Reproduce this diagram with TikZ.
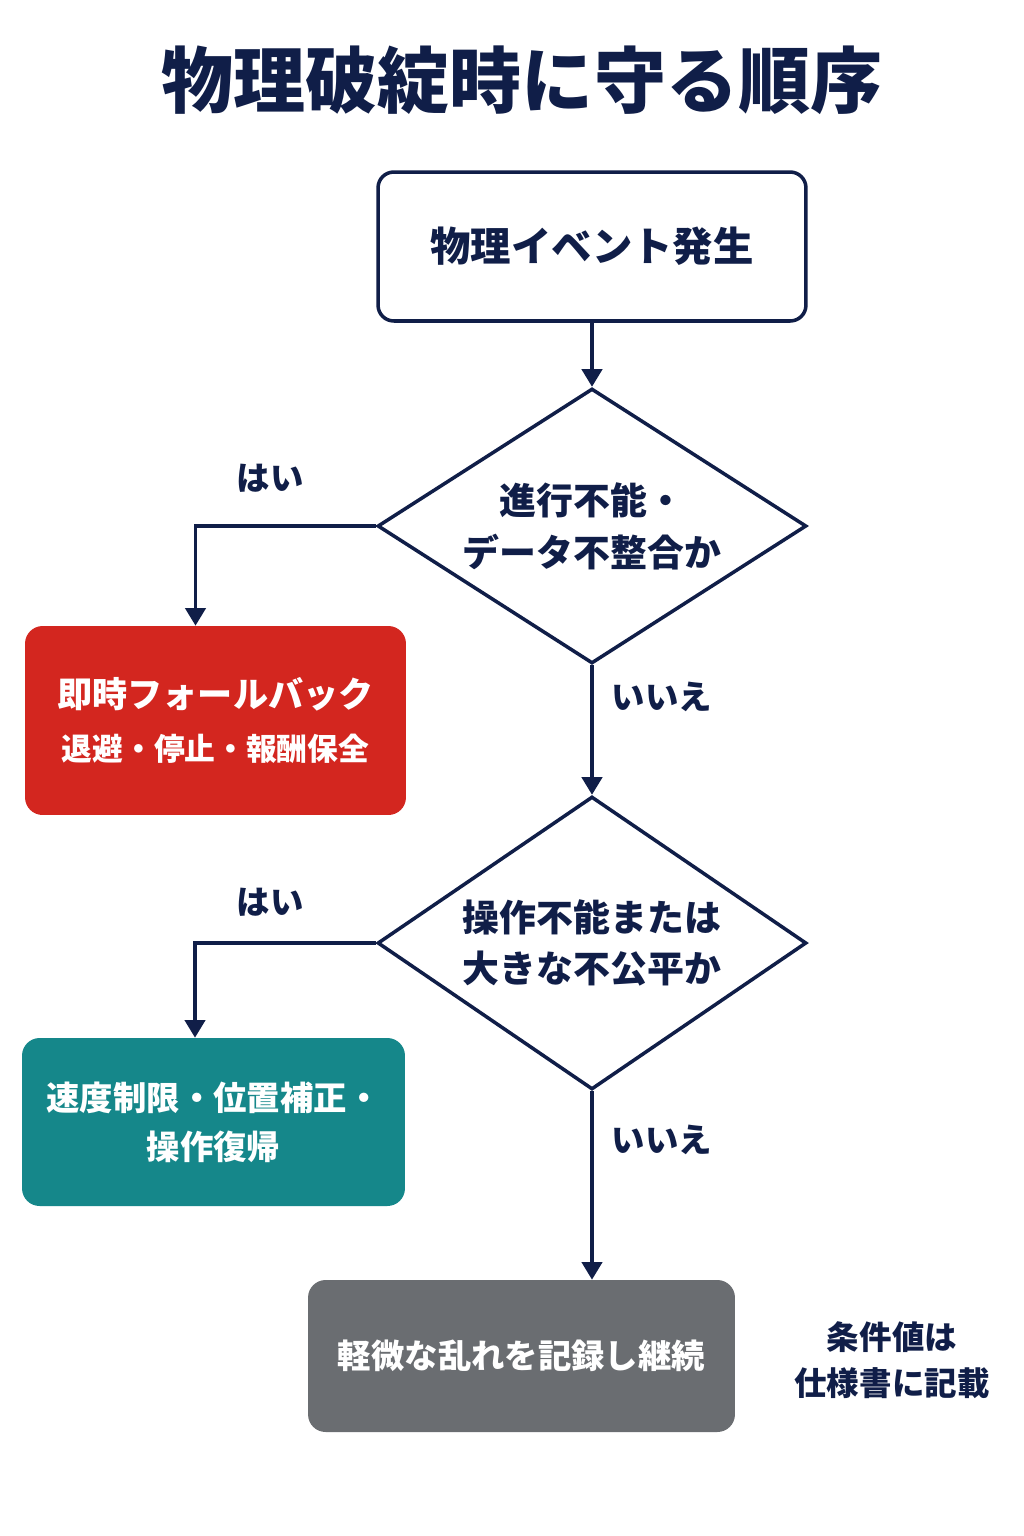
\documentclass[tikz,border=0pt]{standalone}
\usepackage{fontspec}
\setmainfont{Noto Sans CJK JP}
\usepackage{xcolor}
\definecolor{fcnavy}{RGB}{16,30,72}
\definecolor{fcred}{RGB}{211,38,31}
\definecolor{fcteal}{RGB}{21,135,138}
\definecolor{fcgray}{RGB}{106,109,113}
\usepackage{tikz}
\usetikzlibrary{arrows.meta,positioning,shapes.geometric,calc}

\begin{document}
\begin{tikzpicture}[x=0.02cm, y=-0.02cm,
  startbox/.style={
    rectangle, rounded corners=9pt,
    minimum width=8.56cm, minimum height=2.98cm,
    draw=fcnavy, line width=2pt, fill=white,
    font=\fontsize{23}{28}\selectfont\bfseries,
    text=fcnavy
  },
  decision/.style={
    diamond, aspect=1.56, inner sep=0pt,
    minimum width=8.58cm, minimum height=5.5cm,
    draw=fcnavy, line width=2pt, fill=white,
    font=\fontsize{21}{29.5}\selectfont\bfseries,
    align=center, text=fcnavy
  },
  actbox/.style={
    rectangle, rounded corners=10pt,
    font=\fontsize{19}{28}\selectfont\bfseries,
    align=center, text=white
  },
  answer/.style={font=\fontsize{19}{24}\selectfont\bfseries, text=fcnavy},
  conn/.style={-{Triangle[length=10pt,width=11.5pt]}, line width=2pt, draw=fcnavy}
]
\fill[white] (0,0) rectangle (1024,1536);
\useasboundingbox (0,0) rectangle (1024,1536);

\node[font=\fontsize{41}{48}\selectfont\bfseries, text=fcnavy] (title) at (522,80)
  {物理破綻時に守る順序};

\node[startbox] (ev) at (592,246.5) {物理イベント発生};

\node[decision] (d1) at (592,526) {進行不能・\\データ不整合か};
\node[decision, minimum height=5.86cm] (d2) at (592,943) {操作不能または\\大きな不公平か};

\node[actbox, fill=fcred, minimum width=7.62cm, minimum height=3.78cm] (fb) at (215.5,720.5)
  {{\fontsize{20}{26}\selectfont 即時フォールバック}\\[2pt]{\fontsize{17.5}{22}\selectfont 退避・停止・報酬保全}};
\node[actbox, fill=fcteal, minimum width=7.66cm, minimum height=3.36cm] (fix) at (213.5,1122)
  {速度制限・位置補正・\\操作復帰};
\node[actbox, fill=fcgray, minimum width=8.54cm, minimum height=3.04cm] (keep) at (521.5,1356)
  {軽微な乱れを記録し継続};

\node[answer, align=center, font=\fontsize{18.5}{26.5}\selectfont\bfseries] (note) at (892,1360)
  {条件値は\\仕様書に記載};

\draw[conn] (ev) -- (d1);
\draw[conn] (d1.west) -| ([xshift=-0.4cm]fb.north);
\draw[conn] (d1) -- (d2);
\draw[conn] (d2.west) -| ([xshift=-0.37cm]fix.north);
\draw[conn] (d2.south) -- (d2.south |- keep.north);

\node[answer] (y1) at (270,478) {はい};
\node[answer] (n1) at (662,697) {いいえ};
\node[answer] (y2) at (270,902) {はい};
\node[answer] (n2) at (662,1140) {いいえ};
\end{tikzpicture}
\end{document}
